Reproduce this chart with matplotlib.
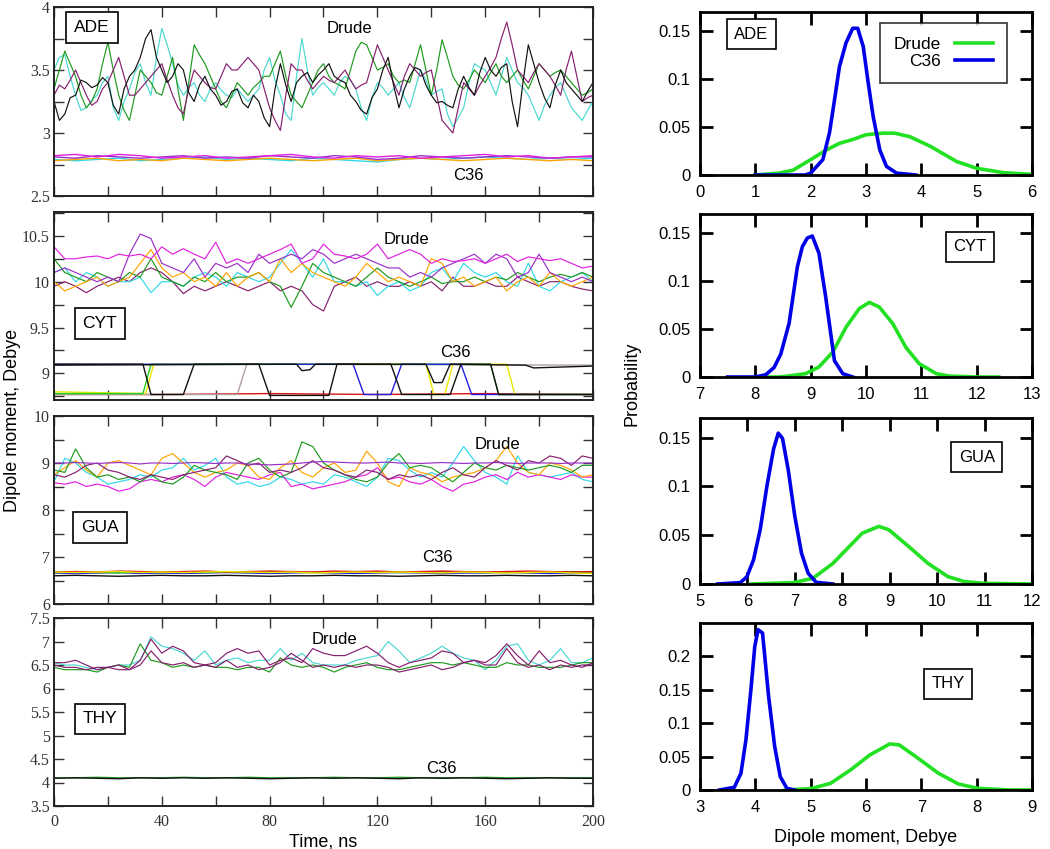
import numpy as np
import matplotlib
matplotlib.use("Agg")
import matplotlib.pyplot as plt
from matplotlib.ticker import MultipleLocator, FuncFormatter

plt.rcParams['font.family'] = ['Liberation Sans', 'DejaVu Sans']

# ---------------- time series data (Dipole moment, Debye vs time, ns) ----------------
ade_drude_black = [3.25, 3.1, 3.15, 3.28, 3.3, 3.42, 3.4, 3.36, 3.38, 3.44, 3.4, 3.22, 3.15, 3.35, 3.45, 3.5, 3.6, 3.75, 3.82, 3.6, 3.5, 3.4, 3.45, 3.55, 3.5, 3.32, 3.25, 3.38, 3.45, 3.35, 3.3, 3.22, 3.25, 3.33, 3.35, 3.24, 3.2, 3.3, 3.25, 3.12, 3.05, 3.35, 3.55, 3.38, 3.25, 3.4, 3.45, 3.48, 3.4, 3.46, 3.5, 3.55, 3.45, 3.42, 3.4, 3.3, 3.25, 3.18, 3.15, 3.28, 3.35, 3.5, 3.6, 3.38, 3.2, 3.35, 3.45, 3.52, 3.5, 3.38, 3.3, 3.24, 3.25, 3.22, 3.2, 3.35, 3.45, 3.36, 3.3, 3.48, 3.6, 3.5, 3.45, 3.52, 3.55, 3.25, 3.05, 3.4, 3.7, 3.55, 3.4, 3.28, 3.2, 3.38, 3.5, 3.4, 3.35, 3.3, 3.25, 3.33, 3.4]
ade_drude_cyan = [3.5, 3.6, 3.62, 3.45, 3.3, 3.18, 3.2, 3.26, 3.3, 3.4, 3.45, 3.2, 3.1, 3.25, 3.35, 3.48, 3.55, 3.4, 3.3, 3.6, 3.83, 3.7, 3.55, 3.38, 3.3, 3.36, 3.4, 3.3, 3.25, 3.35, 3.4, 3.34, 3.3, 3.28, 3.35, 3.3, 3.25, 3.3, 3.35, 3.5, 3.6, 3.42, 3.3, 3.15, 3.1, 3.45, 3.75, 3.5, 3.3, 3.36, 3.4, 3.35, 3.3, 3.4, 3.45, 3.42, 3.35, 3.2, 3.1, 3.28, 3.4, 3.36, 3.3, 3.35, 3.4, 3.28, 3.2, 3.35, 3.5, 3.42, 3.3, 3.33, 3.35, 3.15, 3.05, 3.12, 3.2, 3.4, 3.55, 3.52, 3.5, 3.4, 3.3, 3.45, 3.6, 3.5, 3.4, 3.36, 3.3, 3.2, 3.1, 3.22, 3.3, 3.36, 3.4, 3.3, 3.2, 3.15, 3.1, 3.18, 3.25]
ade_drude_green = [3.35, 3.5, 3.65, 3.55, 3.45, 3.3, 3.2, 3.25, 3.35, 3.55, 3.72, 3.5, 3.3, 3.18, 3.1, 3.3, 3.5, 3.45, 3.4, 3.32, 3.3, 3.45, 3.6, 3.35, 3.1, 3.4, 3.7, 3.62, 3.55, 3.45, 3.35, 3.25, 3.2, 3.3, 3.4, 3.35, 3.3, 3.36, 3.4, 3.45, 3.45, 3.55, 3.65, 3.45, 3.3, 3.25, 3.2, 3.3, 3.4, 3.5, 3.55, 3.45, 3.4, 3.38, 3.35, 3.5, 3.65, 3.72, 3.7, 3.6, 3.5, 3.52, 3.55, 3.45, 3.4, 3.42, 3.4, 3.55, 3.7, 3.5, 3.3, 3.5, 3.74, 3.6, 3.45, 3.38, 3.35, 3.42, 3.5, 3.45, 3.4, 3.48, 3.55, 3.45, 3.4, 3.45, 3.5, 3.42, 3.35, 3.45, 3.55, 3.5, 3.45, 3.48, 3.5, 3.45, 3.4, 3.35, 3.3, 3.32, 3.35]
ade_drude_maroon = [3.3, 3.38, 3.35, 3.42, 3.5, 3.4, 3.3, 3.22, 3.25, 3.35, 3.4, 3.5, 3.6, 3.45, 3.3, 3.3, 3.35, 3.4, 3.45, 3.5, 3.55, 3.42, 3.3, 3.2, 3.15, 3.35, 3.5, 3.45, 3.4, 3.36, 3.35, 3.45, 3.55, 3.5, 3.5, 3.55, 3.6, 3.55, 3.5, 3.35, 3.2, 3.1, 3.02, 3.3, 3.55, 3.5, 3.5, 3.42, 3.35, 3.4, 3.45, 3.42, 3.4, 3.45, 3.5, 3.42, 3.35, 3.38, 3.4, 3.55, 3.7, 3.6, 3.5, 3.4, 3.3, 3.45, 3.55, 3.5, 3.45, 3.48, 3.5, 3.3, 3.1, 3.05, 3.0, 3.2, 3.4, 3.35, 3.3, 3.38, 3.45, 3.52, 3.6, 3.75, 3.88, 3.7, 3.5, 3.45, 3.4, 3.48, 3.55, 3.5, 3.45, 3.38, 3.3, 3.5, 3.65, 3.45, 3.25, 3.28, 3.3]

ade_c36_magenta = [2.82, 2.83, 2.81, 2.83, 2.82, 2.8, 2.81, 2.82, 2.8, 2.81, 2.82, 2.83, 2.81, 2.8, 2.82, 2.81, 2.82, 2.8, 2.81, 2.82, 2.83, 2.81, 2.82, 2.8, 2.81, 2.82]
ade_c36_purple = [2.81, 2.8, 2.82, 2.81, 2.8, 2.81, 2.82, 2.8, 2.81, 2.8, 2.82, 2.81, 2.8, 2.82, 2.81, 2.79, 2.8, 2.82, 2.81, 2.8, 2.81, 2.82, 2.81, 2.8, 2.81, 2.81]
ade_c36_orange = [2.78, 2.79, 2.8, 2.78, 2.79, 2.78, 2.8, 2.79, 2.78, 2.79, 2.8, 2.79, 2.78, 2.79, 2.8, 2.78, 2.79, 2.8, 2.79, 2.78, 2.79, 2.8, 2.79, 2.78, 2.79, 2.78]
ade_c36_cyan = [2.79, 2.78, 2.79, 2.8, 2.78, 2.79, 2.8, 2.81, 2.79, 2.8, 2.79, 2.78, 2.8, 2.79, 2.78, 2.77, 2.79, 2.8, 2.79, 2.8, 2.81, 2.8, 2.79, 2.8, 2.79, 2.8]

cyt_drude_magenta = [10.38, 10.25, 10.25, 10.27, 10.28, 10.25, 10.3, 10.28, 10.3, 10.25, 10.38, 10.3, 10.36, 10.3, 10.25, 10.43, 10.2, 10.25, 10.2, 10.25, 10.3, 10.35, 10.41, 10.2, 10.25, 10.41, 10.3, 10.28, 10.25, 10.3, 10.41, 10.25, 10.3, 10.35, 10.3, 10.2, 10.25, 10.22, 10.23, 10.25, 10.2, 10.25, 10.3, 10.22, 10.27, 10.25, 10.23, 10.25, 10.2, 10.15, 10.17]
cyt_drude_violet = [10.1, 10.15, 10.1, 10.05, 10.0, 10.05, 10.0, 10.3, 10.52, 10.47, 10.2, 10.15, 10.1, 10.25, 10.05, 10.2, 10.15, 10.2, 10.1, 10.3, 10.2, 10.25, 10.3, 10.25, 10.35, 10.3, 10.2, 10.25, 10.3, 10.25, 10.2, 10.15, 10.15, 10.05, 10.1, 10.05, 10.15, 10.2, 10.25, 10.3, 10.2, 10.3, 10.25, 10.05, 10.1, 10.3, 10.1, 10.05, 10.0, 10.05, 10.0]
cyt_drude_orange = [10.0, 9.9, 9.95, 10.0, 10.05, 9.95, 10.0, 10.05, 10.2, 10.35, 10.15, 10.05, 10.1, 10.0, 10.05, 9.95, 10.1, 9.95, 10.05, 10.1, 10.0, 10.25, 10.1, 10.2, 10.1, 10.05, 10.0, 9.95, 10.05, 10.2, 10.1, 10.0, 10.05, 10.0, 9.95, 10.25, 10.2, 10.0, 10.05, 9.95, 10.0, 10.05, 9.9, 10.0, 10.05, 9.95, 10.1, 10.0, 9.95, 10.0, 10.05]
cyt_drude_green = [10.25, 10.1, 10.05, 10.0, 10.1, 10.05, 10.0, 10.1, 10.05, 10.25, 10.05, 10.0, 9.95, 10.05, 10.0, 10.1, 10.0, 10.05, 10.05, 10.1, 10.0, 9.95, 9.72, 9.95, 10.2, 10.1, 10.05, 10.0, 9.95, 10.05, 10.15, 10.05, 10.0, 9.95, 10.0, 10.05, 9.98, 10.0, 10.0, 10.05, 10.0, 10.05, 10.02, 10.1, 10.05, 10.0, 10.05, 10.08, 10.05, 10.1, 10.05]
cyt_drude_cyan = [10.1, 10.15, 10.0, 10.1, 10.05, 9.95, 10.0, 10.0, 10.05, 9.88, 10.0, 10.0, 9.95, 10.05, 10.1, 10.05, 9.95, 10.1, 10.05, 10.0, 10.05, 10.2, 10.35, 10.2, 10.05, 10.25, 10.0, 10.0, 9.95, 10.0, 9.85, 9.95, 10.0, 9.9, 9.95, 10.1, 10.15, 10.0, 10.2, 10.1, 10.05, 10.1, 10.0, 9.95, 10.2, 9.95, 9.9, 10.0, 10.05, 10.1, 10.0]
cyt_drude_maroon = [9.95, 10.0, 9.95, 9.88, 9.95, 10.0, 10.05, 10.0, 10.1, 10.15, 10.1, 10.0, 9.87, 9.95, 9.9, 9.95, 10.0, 9.95, 9.9, 9.95, 10.0, 9.9, 9.95, 9.9, 9.75, 9.68, 9.95, 10.0, 10.05, 9.95, 10.0, 9.95, 9.95, 10.0, 9.95, 10.0, 9.9, 10.05, 9.95, 9.95, 10.0, 9.95, 9.95, 10.05, 10.0, 9.95, 10.0, 10.0, 9.95, 9.92, 9.9]

# C36 cytosine: two-state trajectories, vertices (time, value)
cyt_c36_red_t = [0, 40, 80, 120, 160, 200]
cyt_c36_red_v = [8.77, 8.77, 8.78, 8.77, 8.78, 8.77]
cyt_c36_gray_t = [0, 68, 71.5, 200]
cyt_c36_gray_v = [8.77, 8.77, 9.1, 9.09]
cyt_c36_black1_t = [0, 33, 36, 48, 52, 76, 80, 102, 105, 125, 129, 147, 151, 162, 165, 200]
cyt_c36_black1_v = [9.1, 9.1, 8.77, 8.77, 9.1, 9.1, 8.76, 8.76, 9.1, 9.1, 8.77, 8.77, 9.1, 9.1, 8.77, 8.77]
cyt_c36_black2_t = [0, 90, 92, 95, 97, 138, 141, 144, 147, 175, 178, 200]
cyt_c36_black2_v = [9.09, 9.1, 9.03, 9.04, 9.1, 9.1, 8.9, 8.9, 9.1, 9.09, 9.06, 9.08]
cyt_c36_green_t = [0, 33, 36, 162, 165, 200]
cyt_c36_green_v = [8.78, 8.78, 9.1, 9.1, 8.77, 8.77]
cyt_c36_blue_t = [0, 111, 115, 125, 129, 151, 155, 200]
cyt_c36_blue_v = [9.1, 9.1, 8.77, 8.77, 9.1, 9.1, 8.77, 8.77]
cyt_c36_yellow_t = [0, 34, 37, 138, 141, 145, 148, 168, 171, 200]
cyt_c36_yellow_v = [8.8, 8.78, 9.1, 9.1, 8.77, 8.77, 9.1, 9.1, 8.77, 8.77]

gua_drude_violet = [9.0, 9.0, 9.01, 9.0, 8.99, 9.0, 9.01, 9.0, 8.98, 9.0, 9.0, 8.99, 9.0, 9.01, 9.0, 8.99, 9.0, 9.0, 8.98, 8.97, 8.96, 8.97, 8.98, 9.0, 9.02, 9.03, 9.02, 9.01, 9.0, 9.0, 9.01, 9.02, 9.0, 9.0, 8.99, 9.0, 9.01, 9.0, 8.99, 9.0, 9.0, 9.01, 9.0, 8.99, 9.0, 9.0, 9.0, 8.99, 9.0, 9.0, 9.0]
gua_drude_magenta = [8.58, 8.55, 8.6, 8.5, 8.55, 8.5, 8.4, 8.45, 8.6, 8.65, 8.6, 8.7, 8.75, 8.65, 8.5, 8.7, 8.8, 8.75, 8.7, 8.65, 8.75, 8.8, 8.5, 8.55, 8.45, 8.5, 8.55, 8.6, 8.7, 8.75, 8.9, 8.65, 8.7, 8.6, 8.55, 8.65, 8.5, 8.4, 8.55, 8.6, 8.7, 8.75, 8.65, 8.8, 8.7, 8.75, 8.7, 8.65, 8.75, 8.7, 8.7]
gua_drude_green = [8.85, 8.8, 9.3, 8.9, 8.7, 8.75, 8.65, 8.7, 8.6, 8.75, 8.6, 8.55, 8.7, 8.95, 8.85, 8.8, 8.75, 8.65, 9.0, 9.1, 8.85, 8.7, 8.8, 9.45, 9.35, 9.0, 8.85, 8.75, 8.65, 8.6, 8.7, 9.0, 9.2, 8.9, 8.95, 8.9, 8.75, 8.6, 8.8, 9.0, 8.9, 8.85, 8.95, 8.9, 8.85, 8.9, 8.95, 8.9, 8.8, 8.95, 8.95]
gua_drude_orange = [8.75, 8.9, 9.05, 8.85, 8.7, 9.0, 9.05, 8.95, 8.85, 8.75, 9.1, 9.2, 9.0, 8.8, 8.7, 8.8, 8.85, 9.0, 8.95, 8.7, 8.65, 8.9, 9.05, 8.8, 8.7, 8.9, 9.0, 8.8, 8.85, 9.25, 9.0, 8.6, 8.5, 8.9, 8.8, 8.75, 8.6, 8.7, 8.75, 8.8, 8.9, 9.05, 9.35, 9.0, 8.8, 8.75, 9.0, 8.95, 8.85, 8.7, 8.75]
gua_drude_cyan = [8.6, 9.1, 9.0, 8.8, 8.7, 8.55, 8.6, 8.65, 8.75, 8.7, 8.85, 8.9, 9.1, 8.85, 8.95, 9.1, 8.7, 8.55, 8.6, 8.5, 8.55, 8.7, 8.65, 8.55, 8.6, 8.55, 8.75, 8.7, 8.6, 8.5, 8.7, 9.1, 9.05, 8.85, 8.7, 8.8, 8.7, 9.0, 9.35, 9.05, 8.8, 8.7, 8.55, 9.15, 8.8, 8.75, 8.7, 8.75, 8.8, 8.65, 8.6]
gua_drude_maroon = [8.75, 8.7, 8.8, 8.95, 9.0, 8.85, 8.8, 8.7, 8.65, 8.75, 8.7, 8.65, 8.75, 8.8, 8.85, 8.9, 9.15, 9.05, 8.95, 9.0, 8.8, 8.85, 8.8, 8.9, 9.05, 8.9, 8.85, 8.75, 8.7, 8.85, 8.8, 8.65, 8.75, 8.7, 8.75, 8.65, 8.8, 8.9, 8.75, 8.7, 8.9, 9.05, 8.95, 8.85, 9.05, 9.0, 9.15, 9.1, 8.95, 9.15, 9.1]

gua_c36_black = [6.6, 6.61, 6.6, 6.59, 6.6, 6.61, 6.6, 6.6, 6.61, 6.6, 6.59, 6.6, 6.6, 6.61, 6.6, 6.6, 6.59, 6.6, 6.61, 6.6, 6.6, 6.61, 6.6, 6.6, 6.61, 6.6]
gua_c36_blue = [6.66, 6.65, 6.66, 6.67, 6.65, 6.66, 6.65, 6.66, 6.67, 6.66, 6.65, 6.66, 6.67, 6.66, 6.65, 6.66, 6.67, 6.66, 6.65, 6.66, 6.66, 6.67, 6.66, 6.65, 6.66, 6.67]
gua_c36_red = [6.68, 6.69, 6.68, 6.7, 6.69, 6.68, 6.69, 6.7, 6.68, 6.69, 6.7, 6.69, 6.68, 6.7, 6.69, 6.7, 6.68, 6.69, 6.7, 6.69, 6.68, 6.69, 6.7, 6.69, 6.68, 6.69]
gua_c36_yellow = [6.68, 6.67, 6.68, 6.69, 6.67, 6.68, 6.67, 6.68, 6.69, 6.68, 6.67, 6.68, 6.66, 6.67, 6.68, 6.67, 6.68, 6.67, 6.66, 6.68, 6.67, 6.66, 6.67, 6.68, 6.66, 6.65]
gua_c36_green = [6.67, 6.68, 6.67, 6.66, 6.68, 6.67, 6.68, 6.67, 6.68, 6.67, 6.69, 6.68, 6.67, 6.68, 6.69, 6.68, 6.67, 6.68, 6.69, 6.68, 6.67, 6.68, 6.67, 6.68, 6.69, 6.68]

thy_drude_cyan = [6.55, 6.5, 6.5, 6.45, 6.4, 6.45, 6.5, 6.5, 6.6, 7.1, 6.9, 6.85, 6.75, 6.6, 6.8, 6.5, 6.6, 6.65, 6.55, 6.6, 6.6, 6.85, 6.6, 6.75, 6.55, 6.5, 6.5, 6.5, 6.6, 6.65, 6.7, 7.0, 6.8, 6.55, 6.65, 6.75, 6.9, 6.75, 6.65, 6.6, 6.4, 6.6, 6.9, 6.95, 6.6, 6.5, 6.6, 6.85, 6.55, 6.55, 6.65]
thy_drude_maroon1 = [6.55, 6.55, 6.6, 6.5, 6.4, 6.45, 6.5, 6.4, 6.6, 7.05, 6.75, 6.9, 6.8, 6.55, 6.5, 6.55, 6.75, 6.85, 6.75, 6.8, 6.5, 6.6, 6.65, 6.55, 6.85, 6.75, 6.7, 6.7, 6.8, 6.9, 6.75, 6.55, 6.45, 6.55, 6.6, 6.65, 6.8, 6.75, 6.55, 6.6, 6.55, 6.7, 6.95, 6.7, 6.5, 6.8, 6.55, 6.6, 6.5, 6.45, 6.55]
thy_drude_maroon2 = [6.5, 6.45, 6.45, 6.4, 6.45, 6.45, 6.4, 6.4, 6.5, 6.8, 6.55, 6.5, 6.55, 6.45, 6.5, 6.45, 6.6, 6.45, 6.5, 6.4, 6.45, 6.55, 6.75, 6.6, 6.45, 6.5, 6.45, 6.5, 6.45, 6.5, 6.5, 6.45, 6.35, 6.4, 6.45, 6.5, 6.4, 6.45, 6.55, 6.6, 6.5, 6.5, 6.85, 6.55, 6.45, 6.5, 6.4, 6.5, 6.45, 6.5, 6.5]
thy_drude_green = [6.45, 6.4, 6.4, 6.4, 6.35, 6.45, 6.5, 6.45, 6.95, 6.6, 6.55, 6.45, 6.5, 6.45, 6.5, 6.45, 6.45, 6.4, 6.45, 6.45, 6.35, 6.65, 6.5, 6.45, 6.5, 6.45, 6.35, 6.45, 6.5, 6.55, 6.45, 6.4, 6.4, 6.45, 6.5, 6.55, 6.55, 6.5, 6.55, 6.5, 6.45, 6.45, 6.55, 6.5, 6.5, 6.45, 6.45, 6.45, 6.5, 6.55, 6.55]

thy_c36_black = [4.09, 4.1, 4.09, 4.08, 4.1, 4.09, 4.1, 4.09, 4.1, 4.09, 4.08, 4.09, 4.1, 4.09, 4.1, 4.09, 4.08, 4.1, 4.09, 4.1, 4.09, 4.08, 4.09, 4.1, 4.09, 4.09]
thy_c36_green = [4.1, 4.1, 4.11, 4.1, 4.1, 4.1, 4.11, 4.1, 4.1, 4.11, 4.1, 4.1, 4.1, 4.11, 4.1, 4.1, 4.11, 4.1, 4.1, 4.1, 4.11, 4.1, 4.1, 4.1, 4.1, 4.1]

# ---------------- distributions (Probability vs Dipole moment) ----------------
ade_c36_x = [1.0, 1.9, 2.0, 2.22, 2.34, 2.43, 2.52, 2.64, 2.76, 2.85, 2.95, 3.04, 3.13, 3.25, 3.37, 3.55, 3.9]
ade_c36_p = [0, 0, 0.002, 0.016, 0.044, 0.078, 0.113, 0.138, 0.153, 0.153, 0.134, 0.096, 0.061, 0.026, 0.009, 0.002, 0]
ade_drude_x = [1.0, 1.43, 1.68, 2.0, 2.28, 2.52, 2.76, 3.0, 3.3, 3.52, 3.79, 4.16, 4.64, 5.0, 5.49, 6.0]
ade_drude_p = [0, 0.002, 0.005, 0.016, 0.026, 0.033, 0.037, 0.042, 0.0436, 0.0436, 0.04, 0.03, 0.014, 0.007, 0.0024, 0.0007]

cyt_c36_x = [7.5, 8.0, 8.19, 8.34, 8.46, 8.61, 8.76, 8.85, 8.94, 9.03, 9.15, 9.27, 9.43, 9.58, 9.76]
cyt_c36_p = [0, 0, 0.0024, 0.01, 0.024, 0.056, 0.115, 0.136, 0.145, 0.147, 0.129, 0.084, 0.017, 0.0035, 0]
cyt_drude_x = [8.0, 8.4, 8.55, 8.91, 9.15, 9.4, 9.64, 9.88, 10.06, 10.24, 10.48, 10.72, 10.96, 11.27, 11.5, 12.0, 12.4]
cyt_drude_p = [0, 0, 0.0007, 0.0035, 0.0105, 0.026, 0.052, 0.0715, 0.0778, 0.073, 0.056, 0.031, 0.014, 0.0035, 0.001, 0, 0]

gua_c36_x = [5.37, 5.85, 5.99, 6.13, 6.27, 6.41, 6.55, 6.65, 6.74, 6.86, 7.0, 7.14, 7.28, 7.45, 7.8]
gua_c36_p = [0, 0.0014, 0.0075, 0.025, 0.056, 0.1, 0.138, 0.1545, 0.149, 0.117, 0.069, 0.0316, 0.011, 0.0017, 0]
gua_drude_x = [6.06, 6.97, 7.38, 7.8, 8.08, 8.42, 8.77, 8.98, 9.4, 9.81, 10.23, 10.58, 10.99, 12.0]
gua_drude_p = [0, 0.0014, 0.0058, 0.021, 0.035, 0.052, 0.059, 0.0556, 0.0384, 0.021, 0.0075, 0.0024, 0.0007, 0]

thy_c36_x = [3.35, 3.62, 3.74, 3.83, 3.92, 3.99, 4.05, 4.13, 4.24, 4.35, 4.45, 4.57, 4.71]
thy_c36_p = [0, 0.004, 0.025, 0.075, 0.15, 0.215, 0.24, 0.235, 0.14, 0.065, 0.02, 0.0025, 0]
thy_drude_x = [4.54, 5.0, 5.36, 5.72, 6.07, 6.43, 6.6, 6.9, 7.31, 7.67, 8.02, 8.61, 9.0]
thy_drude_p = [0, 0.002, 0.01, 0.03, 0.0525, 0.069, 0.0675, 0.05, 0.025, 0.009, 0.0025, 0, 0]

# ---------------- colours ----------------
C_BLACK = '#111111'
C_TURQ = '#48d8d0'
C_GREEN = '#1e9a1e'
C_MAROON = '#861f6e'
C_MAGENTA = '#e020e0'
C_VIOLET = '#9a30c8'
C_ORANGE = '#ffa500'
C_CYAN = '#30d8e8'
C_BLUE = '#2020e0'
C_RED = '#e01010'
C_YELLOW = '#e8e800'
C_LGREEN = '#20d020'
C_GRAY = '#b0a0a0'
DIST_GREEN = '#22e022'
DIST_BLUE = '#0000e8'

W, H = 1050, 849
fig = plt.figure(figsize=(W / 100, H / 100), dpi=100)


def px_axes(x0, y0, x1, y1):
    return fig.add_axes([x0 / W, 1 - y1 / H, (x1 - x0) / W, (y1 - y0) / H])


def fmt_num(v, pos):
    return ('%.2f' % v).rstrip('0').rstrip('.')


def times(v):
    return np.linspace(0, 200, len(v))


serif = ['Liberation Serif', 'DejaVu Serif']


def style_left(ax, ylim, major, minor, show_x):
    ax.set_xlim(0, 200)
    ax.set_ylim(*ylim)
    ax.xaxis.set_major_locator(MultipleLocator(40))
    ax.xaxis.set_minor_locator(MultipleLocator(20))
    ax.yaxis.set_major_locator(MultipleLocator(major))
    if minor:
        ax.yaxis.set_minor_locator(MultipleLocator(minor))
    ax.yaxis.set_major_formatter(FuncFormatter(fmt_num))
    ax.tick_params(which='both', direction='in', top=True, right=True, length=7, width=1.0, color='#333333')
    ax.tick_params(axis='y', labelsize=11.5, pad=3)
    ax.tick_params(axis='x', labelsize=11.5, pad=6)
    for lab in ax.get_yticklabels() + ax.get_xticklabels():
        lab.set_family(serif)
        lab.set_color('#333333')
    if not show_x:
        ax.tick_params(axis='x', labelbottom=False)
    for s in ax.spines.values():
        s.set_linewidth(1.4)
        s.set_color('#222222')


def boxlabel(ax, x, y, text, size=12.5):
    ax.text(x, y, text, transform=ax.transAxes, fontsize=size, ha='center', va='center',
            bbox=dict(boxstyle='square,pad=0.45', fc='white', ec='black', lw=1.2), zorder=10)


def note(ax, x, y, text):
    ax.text(x, y, text, transform=ax.transAxes, fontsize=12, ha='center', va='center', zorder=9)


lw = 0.85

# ---- ADE time series ----
ax1 = px_axes(54, 7, 593, 196)
for v, c in [(ade_c36_cyan, C_CYAN), (ade_c36_orange, C_ORANGE), (ade_c36_purple, C_VIOLET), (ade_c36_magenta, C_MAGENTA)]:
    ax1.plot(times(v), v, color=c, lw=1.0)
for v, c in [(ade_drude_cyan, C_TURQ), (ade_drude_green, C_GREEN), (ade_drude_maroon, C_MAROON), (ade_drude_black, C_BLACK)]:
    ax1.plot(times(v), v, color=c, lw=lw)
style_left(ax1, (2.5, 4.0), 0.5, 0.25, False)
boxlabel(ax1, 0.0705, 0.89, 'ADE')
note(ax1, 0.549, 0.884, 'Drude')
note(ax1, 0.768, 0.106, 'C36')

# ---- CYT time series ----
ax2 = px_axes(54, 212, 593, 400)
for tt, v, c in [(cyt_c36_red_t, cyt_c36_red_v, C_RED), (cyt_c36_gray_t, cyt_c36_gray_v, C_GRAY),
                 (cyt_c36_yellow_t, cyt_c36_yellow_v, C_YELLOW), (cyt_c36_green_t, cyt_c36_green_v, C_LGREEN),
                 (cyt_c36_blue_t, cyt_c36_blue_v, C_BLUE), (cyt_c36_black2_t, cyt_c36_black2_v, C_BLACK),
                 (cyt_c36_black1_t, cyt_c36_black1_v, C_BLACK)]:
    ax2.plot(tt, v, color=c, lw=1.0)
for v, c in [(cyt_drude_maroon, C_MAROON), (cyt_drude_cyan, C_CYAN), (cyt_drude_green, C_GREEN),
             (cyt_drude_orange, C_ORANGE), (cyt_drude_violet, C_VIOLET), (cyt_drude_magenta, C_MAGENTA)]:
    ax2.plot(times(v), v, color=c, lw=lw)
style_left(ax2, (8.71, 10.76), 0.5, 0.25, False)
boxlabel(ax2, 0.085, 0.407, 'CYT')
note(ax2, 0.653, 0.856, 'Drude')
note(ax2, 0.744, 0.255, 'C36')

# ---- GUA time series ----
ax3 = px_axes(54, 416, 593, 604)
for v, c in [(gua_c36_black, C_BLACK), (gua_c36_blue, C_BLUE), (gua_c36_green, C_LGREEN),
             (gua_c36_red, C_RED), (gua_c36_yellow, C_YELLOW)]:
    ax3.plot(times(v), v, color=c, lw=1.0)
for v, c in [(gua_drude_cyan, C_CYAN), (gua_drude_magenta, C_MAGENTA), (gua_drude_orange, C_ORANGE),
             (gua_drude_green, C_GREEN), (gua_drude_maroon, C_MAROON), (gua_drude_violet, C_VIOLET)]:
    ax3.plot(times(v), v, color=c, lw=lw)
style_left(ax3, (6, 10), 1, 0.5, False)
boxlabel(ax3, 0.085, 0.407, 'GUA')
note(ax3, 0.822, 0.846, 'Drude')
note(ax3, 0.712, 0.245, 'C36')

# ---- THY time series ----
ax4 = px_axes(54, 618, 593, 806)
for v, c in [(thy_c36_green, C_GREEN), (thy_c36_black, C_BLACK)]:
    ax4.plot(times(v), v, color=c, lw=1.0)
for v, c in [(thy_drude_cyan, C_TURQ), (thy_drude_green, C_GREEN), (thy_drude_maroon2, C_MAROON),
             (thy_drude_maroon1, C_MAROON)]:
    ax4.plot(times(v), v, color=c, lw=lw)
style_left(ax4, (3.5, 7.5), 0.5, None, True)
boxlabel(ax4, 0.085, 0.463, 'THY')
note(ax4, 0.521, 0.883, 'Drude')
note(ax4, 0.718, 0.202, 'C36')
ax4.set_xlabel('Time, ns', fontsize=13, labelpad=2)

fig.text(13 / W, 1 - 420 / H, 'Dipole moment, Debye', rotation=90, fontsize=13, ha='center', va='center')


# ---- distributions ----
def style_right(ax, xlim, ylim, yticks):
    ax.set_xlim(*xlim)
    ax.set_ylim(*ylim)
    ax.xaxis.set_major_locator(MultipleLocator(1))
    ax.set_yticks(yticks)
    ax.yaxis.set_major_formatter(FuncFormatter(fmt_num))
    ax.tick_params(direction='in', top=True, right=True, length=9, width=2.0, labelsize=12, pad=7)
    for s in ax.spines.values():
        s.set_linewidth(2.0)


dist_lw = 2.6
specs = [
    ((700, 12, 1032, 175), (0, 6), (0, 0.17), [0, 0.05, 0.1, 0.15], ade_drude_x, ade_drude_p, ade_c36_x, ade_c36_p, 'ADE', (0.154, 0.865)),
    ((700, 214, 1032, 377), (7, 13), (0, 0.17), [0, 0.05, 0.1, 0.15], cyt_drude_x, cyt_drude_p, cyt_c36_x, cyt_c36_p, 'CYT', (0.813, 0.80)),
    ((700, 418, 1032, 584), (5, 12), (0, 0.17), [0, 0.05, 0.1, 0.15], gua_drude_x, gua_drude_p, gua_c36_x, gua_c36_p, 'GUA', (0.834, 0.765)),
    ((700, 623, 1032, 790), (3, 9), (0, 0.25), [0, 0.05, 0.1, 0.15, 0.2], thy_drude_x, thy_drude_p, thy_c36_x, thy_c36_p, 'THY', (0.747, 0.635)),
]
right_axes = []
for box, xl, yl, yt, dx, dp, cx, cp, name, lpos in specs:
    ax = px_axes(*box)
    ax.plot(dx, dp, color=DIST_GREEN, lw=dist_lw, label='Drude', solid_joinstyle='round')
    ax.plot(cx, cp, color=DIST_BLUE, lw=dist_lw, label='C36', solid_joinstyle='round')
    style_right(ax, xl, yl, yt)
    boxlabel(ax, lpos[0], lpos[1], name, size=12)
    right_axes.append(ax)

leg = right_axes[0].legend(loc='upper right', bbox_to_anchor=(0.925, 0.933), borderaxespad=0, markerfirst=False,
                           fontsize=12.5, frameon=True, fancybox=False, edgecolor='black',
                           handlelength=2.2, borderpad=0.8, labelspacing=0.1, handletextpad=0.8)
leg.get_frame().set_linewidth(1.2)
for txt in leg.get_texts():
    txt.set_ha('right')

right_axes[3].set_xlabel('Dipole moment, Debye', fontsize=13, labelpad=10)
fig.text(632 / W, 1 - 384 / H, 'Probability', rotation=90, fontsize=13, ha='center', va='center')

fig.savefig('out.png', dpi=100)
